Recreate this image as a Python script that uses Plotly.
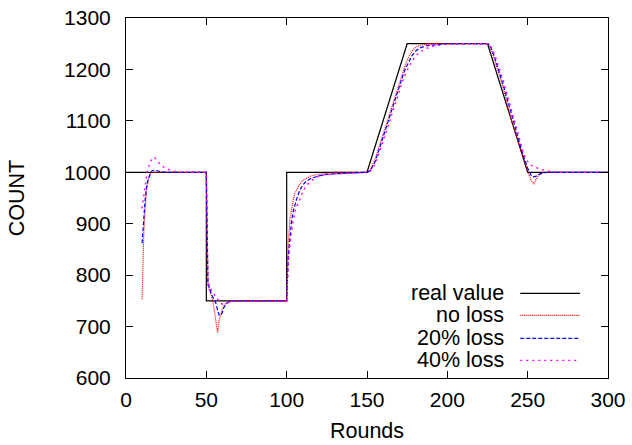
import plotly.graph_objects as go

# ---------------- data ----------------
real_rounds = [0, 50, 50, 100, 100, 150, 175, 225, 250, 300]
real_values = [1000, 1000, 750, 750, 1000, 1000, 1250, 1250, 1000, 1000]

noloss_rounds = [10, 11, 12, 13, 14, 15, 16, 50,
                 51, 52, 53, 54, 55, 56, 57, 58, 59, 60, 62, 64, 66, 100,
                 101, 102, 103, 104, 105, 106, 108, 110, 112, 115, 120, 125, 130, 150,
                 152, 155, 160, 165, 170, 172, 174, 176, 178, 180, 183, 187, 190, 225,
                 226, 228, 230, 235, 240, 245, 248, 250, 252, 254, 255, 257, 259, 261, 300]
noloss_values = [753, 875, 935, 968, 985, 997, 1000, 1000,
                 780, 772, 761, 751, 732, 709, 688, 712, 725, 735, 745, 748, 750, 750,
                 862, 907, 930, 945, 958, 965, 976, 984, 988, 993, 996, 998, 1000, 1000,
                 1005, 1025, 1073, 1123, 1172, 1192, 1210, 1225, 1236, 1242, 1247, 1249, 1250, 1250,
                 1248, 1232, 1212, 1162, 1100, 1050, 1020, 1002, 985, 977, 985, 995, 999, 1000, 1000]

loss20_rounds = [10, 11, 12, 13, 14, 15, 16, 17, 18, 20, 22, 25, 50,
                 51, 52, 53, 54, 55, 56, 57, 58, 59, 60, 61, 63, 65, 100,
                 101, 102, 103, 104, 105, 106, 108, 110, 112, 115, 120, 125, 130, 140, 150,
                 152, 155, 160, 165, 170, 172, 174, 176, 178, 180, 183, 187, 192, 200, 225,
                 226, 228, 230, 235, 240, 245, 248, 250, 252, 253, 255, 257, 260, 263, 300]
loss20_values = [862, 915, 950, 978, 990, 997, 1002, 1004, 1004, 1002, 1001, 1000, 1000,
                 782, 776, 764, 757, 752, 745, 732, 722, 722, 728, 738, 746, 750, 750,
                 836, 875, 904, 923, 937, 946, 964, 975, 982, 988, 993, 996, 997, 999, 1000,
                 1003, 1020, 1068, 1118, 1166, 1185, 1202, 1216, 1227, 1235, 1242, 1246, 1248, 1250, 1250,
                 1249, 1236, 1218, 1168, 1110, 1057, 1026, 1008, 995, 991, 992, 996, 999, 1000, 1000]

loss40_rounds = [10, 11, 12, 13, 14, 15, 16, 17, 18, 19, 20, 22, 25, 28, 30, 35, 50,
                 51, 52, 53, 54, 55, 56, 57, 58, 59, 60, 62, 64, 66, 100,
                 101, 102, 103, 104, 105, 106, 108, 110, 112, 115, 120, 125, 130, 140, 150,
                 152, 155, 160, 165, 170, 172, 174, 176, 178, 180, 183, 187, 192, 200, 210, 225,
                 226, 228, 230, 235, 240, 245, 247, 249, 251, 253, 256, 259, 262, 266, 270, 300]
loss40_values = [930, 955, 980, 998, 1010, 1020, 1026, 1029, 1028, 1024, 1020, 1013, 1007, 1004, 1002, 1000, 1000,
                 785, 780, 772, 766, 761, 757, 753, 748, 745, 744, 746, 749, 750, 750,
                 823, 858, 884, 906, 920, 932, 946, 962, 973, 983, 993, 995, 997, 998, 1000,
                 1002, 1015, 1060, 1110, 1158, 1176, 1192, 1205, 1216, 1225, 1234, 1241, 1246, 1249, 1250, 1250,
                 1249, 1240, 1224, 1176, 1118, 1065, 1042, 1025, 1017, 1012, 1008, 1005, 1003, 1001, 1000, 1000]

series_names = ["real value", "no loss", "20% loss", "40% loss"]
x_ticks = [0, 50, 100, 150, 200, 250, 300]
y_ticks = [600, 700, 800, 900, 1000, 1100, 1200, 1300]

FONT = "Liberation Sans, Arial, Helvetica, sans-serif"

styles = [
    dict(color="black", width=1.2, dash="solid"),
    dict(color="#ff0000", width=1.2, dash="1px,1px"),
    dict(color="#0000ff", width=1.2, dash="4px,2px"),
    dict(color="#ff00ff", width=1.4, dash="2px,4px"),
]

data = [(real_rounds, real_values), (noloss_rounds, noloss_values),
        (loss20_rounds, loss20_values), (loss40_rounds, loss40_values)]

fig = go.Figure()
for (xs, ys), name, st in zip(data, series_names, styles):
    assert len(xs) == len(ys), name
    fig.add_trace(go.Scatter(x=xs, y=ys, mode="lines", name=name, line=st,
                             showlegend=False))

# custom gnuplot-style legend (text right, sample line right of it)
leg_y = [0.235, 0.174, 0.11, 0.049]
for name, st, yy in zip(series_names, styles, leg_y):
    fig.add_annotation(x=0.788, y=yy, xref="paper", yref="paper", text=name,
                       showarrow=False, xanchor="right", yanchor="middle",
                       font=dict(family=FONT, size=21.5, color="black"))
    fig.add_shape(type="line", xref="paper", yref="paper",
                  x0=0.818, x1=0.942, y0=yy, y1=yy, line=st)

axis_common = dict(showline=True, linecolor="black", linewidth=1, mirror="ticks",
                   ticks="inside", ticklen=7, tickcolor="black", tickwidth=1,
                   showgrid=False, zeroline=False,
                   tickfont=dict(family=FONT, size=21, color="black"))

fig.update_xaxes(range=[0, 300], tickvals=x_ticks, ticklabelstandoff=3,
                 title=dict(text="Rounds", font=dict(family=FONT, size=21.5, color="black"), standoff=12),
                 **axis_common)
fig.update_yaxes(range=[600, 1300], tickvals=y_ticks, ticklabelstandoff=10,
                 title=dict(text="COUNT", font=dict(family=FONT, size=21.5, color="black"), standoff=33),
                 **axis_common)

fig.update_layout(width=632, height=445, margin=dict(l=126, r=24, t=18, b=67, autoexpand=False),
                  paper_bgcolor="white", plot_bgcolor="white", showlegend=False)

fig.write_html("out.html")
